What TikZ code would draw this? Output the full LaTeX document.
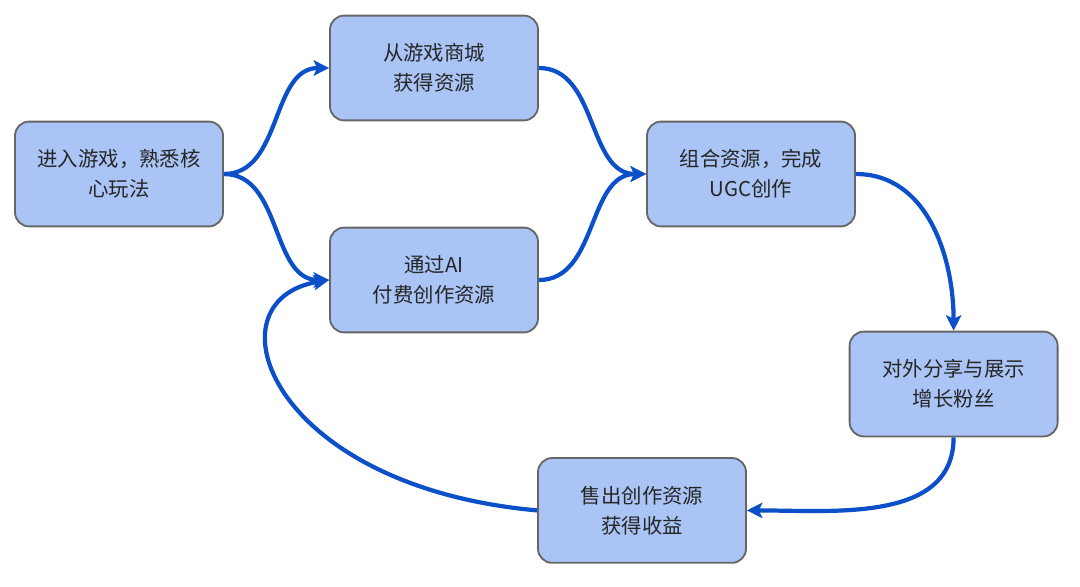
\documentclass[tikz,border=0pt]{standalone}
\usepackage{fontspec}
\setmainfont{Noto Sans CJK SC}
\usetikzlibrary{arrows.meta}
\definecolor{boxfill}{HTML}{A9C4F5}
\definecolor{boxline}{HTML}{666666}
\definecolor{flowblue}{HTML}{0B50C8}
\begin{document}
\begin{tikzpicture}
[
stepbox/.style={rectangle, rounded corners=10pt, draw=boxline, line width=1.3pt, fill=boxfill, minimum width=5.2cm, minimum height=2.62cm, align=center, font=\fontsize{14.5}{21.5}\selectfont, text=black!85, inner sep=2pt},
flow/.style={draw=flowblue, line width=3pt, -{Stealth[length=11pt,width=11pt,inset=2.5pt]}}
]
\useasboundingbox (0,0) rectangle (27,-14.65);
%Nodes
\node[stepbox] at(2.975,-4.35)		(enter) {进入游戏，熟悉核\\心玩法};
\node[stepbox] at(10.85,-1.7)		(shop) {从游戏商城\\获得资源};
\node[stepbox] at(10.85,-7)		(ai) {通过AI\\付费创作资源};
\node[stepbox] at(18.775,-4.35)		(ugc) {组合资源，完成\\UGC创作};
\node[stepbox] at(23.84,-9.6)		(share) {对外分享与展示\\增长粉丝};
\node[stepbox] at(16.05,-12.76)		(sell) {售出创作资源\\获得收益};
%Arrows
\draw[flow] (enter.east) to[out=0,in=180] (shop.west);
\draw[flow] (enter.east) to[out=0,in=180] (ai.west);
\draw[flow] (shop.east) to[out=0,in=180] (ugc.west);
\draw[flow] (ai.east) to[out=0,in=180] (ugc.west);
\draw[flow] (ugc.east) to[out=0,in=90] (share.north);
\draw[flow] (share.south) to[out=-90,in=0] (sell.east);
\draw[flow] (sell.west) .. controls +(-6.7,0.6) and +(-3.1,-0.5) .. (ai.west);
\end{tikzpicture}
\end{document}
